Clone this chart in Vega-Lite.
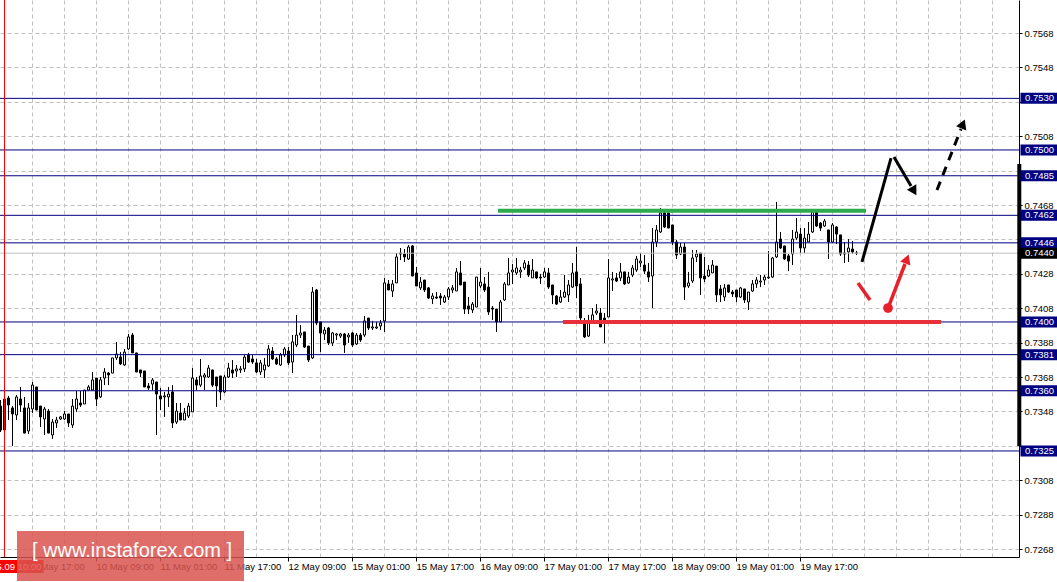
{
"$schema": "https://vega.github.io/schema/vega-lite/v6.json",
"width": 1019, "height": 557,
"autosize": "none",
"padding": {"left": 0, "top": 0, "right": 38, "bottom": 25},
"background": "white",
"config": {"view": {"stroke": null}, "font": "Liberation Sans", "axis": {"labelOverlap": false, "labelSeparation": 0}},
"resolve": {"axis": {"x": "independent", "y": "independent"}},
"datasets": {
"candles": [
{"i":0,"o":0.73511,"h":0.73546,"l":0.7336,"c":0.73372},
{"i":1,"o":0.73552,"h":0.73564,"l":0.73366,"c":0.73372},
{"i":2,"o":0.73558,"h":0.7357,"l":0.7343,"c":0.73517},
{"i":3,"o":0.735,"h":0.73511,"l":0.73279,"c":0.73465},
{"i":4,"o":0.73459,"h":0.73575,"l":0.7343,"c":0.73564},
{"i":5,"o":0.73552,"h":0.73622,"l":0.73477,"c":0.73517},
{"i":6,"o":0.735,"h":0.73564,"l":0.73354,"c":0.73354},
{"i":7,"o":0.73366,"h":0.73529,"l":0.73349,"c":0.735},
{"i":8,"o":0.73494,"h":0.73651,"l":0.73471,"c":0.73633},
{"i":9,"o":0.73622,"h":0.73622,"l":0.73488,"c":0.73488},
{"i":10,"o":0.73511,"h":0.73511,"l":0.73389,"c":0.73448},
{"i":11,"o":0.73436,"h":0.73506,"l":0.73343,"c":0.73494},
{"i":12,"o":0.73482,"h":0.73494,"l":0.73354,"c":0.73354},
{"i":13,"o":0.73343,"h":0.73436,"l":0.7332,"c":0.73418},
{"i":14,"o":0.73413,"h":0.73448,"l":0.73384,"c":0.7343},
{"i":15,"o":0.73436,"h":0.73453,"l":0.7343,"c":0.73448},
{"i":16,"o":0.73436,"h":0.73482,"l":0.7343,"c":0.73465},
{"i":17,"o":0.73465,"h":0.73465,"l":0.73389,"c":0.73413},
{"i":18,"o":0.73401,"h":0.73552,"l":0.73384,"c":0.73511},
{"i":19,"o":0.73494,"h":0.73599,"l":0.73477,"c":0.73552},
{"i":20,"o":0.73529,"h":0.73599,"l":0.73506,"c":0.73517},
{"i":21,"o":0.73523,"h":0.73604,"l":0.73523,"c":0.73604},
{"i":22,"o":0.73604,"h":0.73633,"l":0.73599,"c":0.73622},
{"i":23,"o":0.73604,"h":0.73709,"l":0.73604,"c":0.73663},
{"i":24,"o":0.73674,"h":0.73674,"l":0.73511,"c":0.73552},
{"i":25,"o":0.73564,"h":0.7368,"l":0.73558,"c":0.73663},
{"i":26,"o":0.73674,"h":0.73732,"l":0.73633,"c":0.73709},
{"i":27,"o":0.73703,"h":0.73709,"l":0.73633,"c":0.73692},
{"i":28,"o":0.73703,"h":0.73791,"l":0.73703,"c":0.73791},
{"i":29,"o":0.73791,"h":0.73884,"l":0.73779,"c":0.73814},
{"i":30,"o":0.73796,"h":0.73825,"l":0.7375,"c":0.73756},
{"i":31,"o":0.7375,"h":0.73843,"l":0.73744,"c":0.73825},
{"i":32,"o":0.73843,"h":0.7393,"l":0.73837,"c":0.73913},
{"i":33,"o":0.73924,"h":0.73936,"l":0.7382,"c":0.7382},
{"i":34,"o":0.7382,"h":0.7382,"l":0.73709,"c":0.73709},
{"i":35,"o":0.73721,"h":0.73721,"l":0.7368,"c":0.73703},
{"i":36,"o":0.73715,"h":0.73715,"l":0.73622,"c":0.73622},
{"i":37,"o":0.73628,"h":0.73645,"l":0.73604,"c":0.73616},
{"i":38,"o":0.73639,"h":0.73674,"l":0.73604,"c":0.73663},
{"i":39,"o":0.73651,"h":0.73651,"l":0.73343,"c":0.73581},
{"i":40,"o":0.7357,"h":0.73616,"l":0.73488,"c":0.73552},
{"i":41,"o":0.73564,"h":0.73593,"l":0.73448,"c":0.7357},
{"i":42,"o":0.73564,"h":0.73622,"l":0.73506,"c":0.73581},
{"i":43,"o":0.73593,"h":0.73633,"l":0.73384,"c":0.73413},
{"i":44,"o":0.73418,"h":0.73529,"l":0.73407,"c":0.73482},
{"i":45,"o":0.73471,"h":0.73529,"l":0.7343,"c":0.7343},
{"i":46,"o":0.7343,"h":0.735,"l":0.7343,"c":0.73471},
{"i":47,"o":0.73453,"h":0.73529,"l":0.73442,"c":0.73511},
{"i":48,"o":0.73477,"h":0.73732,"l":0.73477,"c":0.73674},
{"i":49,"o":0.73663,"h":0.7368,"l":0.73604,"c":0.73633},
{"i":50,"o":0.73633,"h":0.73785,"l":0.73622,"c":0.73686},
{"i":51,"o":0.7368,"h":0.73703,"l":0.73604,"c":0.73692},
{"i":52,"o":0.7368,"h":0.7375,"l":0.73674,"c":0.73732},
{"i":53,"o":0.73721,"h":0.73721,"l":0.73622,"c":0.73633},
{"i":54,"o":0.7368,"h":0.7368,"l":0.73506,"c":0.73628},
{"i":55,"o":0.73686,"h":0.73686,"l":0.73546,"c":0.73593},
{"i":56,"o":0.73593,"h":0.73692,"l":0.73587,"c":0.7368},
{"i":57,"o":0.7368,"h":0.73762,"l":0.73674,"c":0.73732},
{"i":58,"o":0.73721,"h":0.73779,"l":0.73674,"c":0.73703},
{"i":59,"o":0.73715,"h":0.7375,"l":0.7368,"c":0.73727},
{"i":60,"o":0.73721,"h":0.73744,"l":0.73703,"c":0.73727},
{"i":61,"o":0.73727,"h":0.73808,"l":0.73709,"c":0.73796},
{"i":62,"o":0.73808,"h":0.7382,"l":0.73762,"c":0.73767},
{"i":63,"o":0.73785,"h":0.73808,"l":0.73756,"c":0.73767},
{"i":64,"o":0.73762,"h":0.73785,"l":0.73703,"c":0.73709},
{"i":65,"o":0.73709,"h":0.73779,"l":0.73692,"c":0.73762},
{"i":66,"o":0.73721,"h":0.73791,"l":0.73674,"c":0.7375},
{"i":67,"o":0.73744,"h":0.73866,"l":0.73738,"c":0.73843},
{"i":68,"o":0.73831,"h":0.73854,"l":0.73779,"c":0.73785},
{"i":69,"o":0.73785,"h":0.73796,"l":0.7375,"c":0.73756},
{"i":70,"o":0.7375,"h":0.7382,"l":0.73744,"c":0.73808},
{"i":71,"o":0.73808,"h":0.73854,"l":0.73796,"c":0.73843},
{"i":72,"o":0.73831,"h":0.73854,"l":0.7375,"c":0.73762},
{"i":73,"o":0.73767,"h":0.73924,"l":0.73703,"c":0.73884},
{"i":74,"o":0.73866,"h":0.74041,"l":0.73854,"c":0.73924},
{"i":75,"o":0.73924,"h":0.73982,"l":0.73907,"c":0.73936},
{"i":76,"o":0.73942,"h":0.73942,"l":0.73849,"c":0.73854},
{"i":77,"o":0.7386,"h":0.7386,"l":0.73767,"c":0.73779},
{"i":78,"o":0.73791,"h":0.74203,"l":0.73785,"c":0.74174},
{"i":79,"o":0.74186,"h":0.74192,"l":0.73982,"c":0.73994},
{"i":80,"o":0.74,"h":0.74,"l":0.73825,"c":0.73936},
{"i":81,"o":0.7393,"h":0.73971,"l":0.73895,"c":0.73953},
{"i":82,"o":0.73965,"h":0.73971,"l":0.73866,"c":0.73878},
{"i":83,"o":0.73878,"h":0.73942,"l":0.7386,"c":0.73936},
{"i":84,"o":0.73924,"h":0.73936,"l":0.73895,"c":0.7393},
{"i":85,"o":0.73918,"h":0.73936,"l":0.73907,"c":0.7393},
{"i":86,"o":0.7393,"h":0.73936,"l":0.7382,"c":0.73866},
{"i":87,"o":0.73913,"h":0.73936,"l":0.73878,"c":0.73924},
{"i":88,"o":0.73936,"h":0.73942,"l":0.73854,"c":0.73866},
{"i":89,"o":0.73872,"h":0.73936,"l":0.73866,"c":0.73924},
{"i":90,"o":0.73924,"h":0.73936,"l":0.73884,"c":0.73895},
{"i":91,"o":0.73924,"h":0.74035,"l":0.73913,"c":0.74006},
{"i":92,"o":0.74023,"h":0.74023,"l":0.73953,"c":0.73965},
{"i":93,"o":0.73965,"h":0.74006,"l":0.73953,"c":0.73971},
{"i":94,"o":0.73965,"h":0.74,"l":0.73959,"c":0.73971},
{"i":95,"o":0.73977,"h":0.74011,"l":0.73953,"c":0.73994},
{"i":96,"o":0.74006,"h":0.74256,"l":0.73942,"c":0.74227},
{"i":97,"o":0.74221,"h":0.74244,"l":0.74186,"c":0.74186},
{"i":98,"o":0.7418,"h":0.74244,"l":0.74145,"c":0.74221},
{"i":99,"o":0.74227,"h":0.74401,"l":0.74227,"c":0.74378},
{"i":100,"o":0.74401,"h":0.7443,"l":0.7436,"c":0.74395},
{"i":101,"o":0.74395,"h":0.74424,"l":0.74349,"c":0.74378},
{"i":102,"o":0.74366,"h":0.74447,"l":0.7436,"c":0.74436},
{"i":103,"o":0.74442,"h":0.74447,"l":0.74267,"c":0.74267},
{"i":104,"o":0.74285,"h":0.7432,"l":0.74209,"c":0.74209},
{"i":105,"o":0.74198,"h":0.74261,"l":0.74186,"c":0.74232},
{"i":106,"o":0.74244,"h":0.74244,"l":0.74174,"c":0.74186},
{"i":107,"o":0.74198,"h":0.74203,"l":0.74134,"c":0.74139},
{"i":108,"o":0.74134,"h":0.74168,"l":0.74104,"c":0.74151},
{"i":109,"o":0.74145,"h":0.74174,"l":0.74134,"c":0.74139},
{"i":110,"o":0.74151,"h":0.74168,"l":0.74099,"c":0.74139},
{"i":111,"o":0.74116,"h":0.74157,"l":0.7411,"c":0.74145},
{"i":112,"o":0.74145,"h":0.74203,"l":0.74128,"c":0.74192},
{"i":113,"o":0.74186,"h":0.74215,"l":0.74168,"c":0.74198},
{"i":114,"o":0.7418,"h":0.74314,"l":0.7418,"c":0.74291},
{"i":115,"o":0.74285,"h":0.74354,"l":0.74215,"c":0.74215},
{"i":116,"o":0.74232,"h":0.74232,"l":0.74046,"c":0.74075},
{"i":117,"o":0.74093,"h":0.74145,"l":0.74046,"c":0.74075},
{"i":118,"o":0.7407,"h":0.74116,"l":0.74052,"c":0.74104},
{"i":119,"o":0.74087,"h":0.74261,"l":0.74087,"c":0.74261},
{"i":120,"o":0.74209,"h":0.74314,"l":0.74198,"c":0.74232},
{"i":121,"o":0.74221,"h":0.74261,"l":0.74174,"c":0.74186},
{"i":122,"o":0.74203,"h":0.74291,"l":0.74041,"c":0.74058},
{"i":123,"o":0.74081,"h":0.74093,"l":0.74011,"c":0.74075},
{"i":124,"o":0.74075,"h":0.74075,"l":0.73942,"c":0.74},
{"i":125,"o":0.74,"h":0.74128,"l":0.74,"c":0.74116},
{"i":126,"o":0.74128,"h":0.74232,"l":0.74122,"c":0.74221},
{"i":127,"o":0.74215,"h":0.74372,"l":0.74215,"c":0.74285},
{"i":128,"o":0.74291,"h":0.74337,"l":0.74221,"c":0.74302},
{"i":129,"o":0.74285,"h":0.74372,"l":0.74273,"c":0.74314},
{"i":130,"o":0.74291,"h":0.7432,"l":0.74256,"c":0.74302},
{"i":131,"o":0.74314,"h":0.7436,"l":0.74302,"c":0.74343},
{"i":132,"o":0.74331,"h":0.74354,"l":0.74261,"c":0.74273},
{"i":133,"o":0.74256,"h":0.74366,"l":0.74256,"c":0.74302},
{"i":134,"o":0.74291,"h":0.74291,"l":0.7425,"c":0.74256},
{"i":135,"o":0.74261,"h":0.74279,"l":0.74221,"c":0.74256},
{"i":136,"o":0.74261,"h":0.74314,"l":0.74256,"c":0.74291},
{"i":137,"o":0.74285,"h":0.74314,"l":0.74192,"c":0.74203},
{"i":138,"o":0.74215,"h":0.74215,"l":0.74104,"c":0.74157},
{"i":139,"o":0.74151,"h":0.74157,"l":0.74099,"c":0.74104},
{"i":140,"o":0.74116,"h":0.74186,"l":0.7411,"c":0.74145},
{"i":141,"o":0.74145,"h":0.74273,"l":0.74139,"c":0.74174},
{"i":142,"o":0.74157,"h":0.74244,"l":0.74116,"c":0.74215},
{"i":143,"o":0.74203,"h":0.74343,"l":0.74198,"c":0.74285},
{"i":144,"o":0.74291,"h":0.74436,"l":0.74139,"c":0.74209},
{"i":145,"o":0.74221,"h":0.74256,"l":0.74011,"c":0.74023},
{"i":146,"o":0.73994,"h":0.74023,"l":0.73907,"c":0.73913},
{"i":147,"o":0.73918,"h":0.74041,"l":0.73913,"c":0.73994},
{"i":148,"o":0.73994,"h":0.74081,"l":0.73994,"c":0.74041},
{"i":149,"o":0.74052,"h":0.74104,"l":0.74041,"c":0.74064},
{"i":150,"o":0.74052,"h":0.74081,"l":0.73971,"c":0.73971},
{"i":151,"o":0.74023,"h":0.74052,"l":0.73878,"c":0.73994},
{"i":152,"o":0.74029,"h":0.74366,"l":0.74029,"c":0.74256},
{"i":153,"o":0.74244,"h":0.74291,"l":0.7418,"c":0.7425},
{"i":154,"o":0.74256,"h":0.74285,"l":0.74232,"c":0.74238},
{"i":155,"o":0.74256,"h":0.74343,"l":0.74238,"c":0.74291},
{"i":156,"o":0.74291,"h":0.74291,"l":0.74215,"c":0.74221},
{"i":157,"o":0.74227,"h":0.74291,"l":0.74221,"c":0.74261},
{"i":158,"o":0.74273,"h":0.74331,"l":0.74261,"c":0.74314},
{"i":159,"o":0.74302,"h":0.74384,"l":0.74291,"c":0.74366},
{"i":160,"o":0.74343,"h":0.74401,"l":0.7432,"c":0.74354},
{"i":161,"o":0.74331,"h":0.74389,"l":0.74279,"c":0.74296},
{"i":162,"o":0.74291,"h":0.74343,"l":0.74232,"c":0.74261},
{"i":163,"o":0.74267,"h":0.74546,"l":0.74081,"c":0.74465},
{"i":164,"o":0.74465,"h":0.74564,"l":0.74436,"c":0.74535},
{"i":165,"o":0.74523,"h":0.74663,"l":0.74517,"c":0.74634},
{"i":166,"o":0.74634,"h":0.74657,"l":0.74546,"c":0.74552},
{"i":167,"o":0.74634,"h":0.74634,"l":0.74546,"c":0.74546},
{"i":168,"o":0.74564,"h":0.74564,"l":0.74447,"c":0.74465},
{"i":169,"o":0.74465,"h":0.74477,"l":0.74366,"c":0.74389},
{"i":170,"o":0.74395,"h":0.74459,"l":0.74389,"c":0.74436},
{"i":171,"o":0.74436,"h":0.74459,"l":0.74128,"c":0.74203},
{"i":172,"o":0.74209,"h":0.74291,"l":0.74198,"c":0.74227},
{"i":173,"o":0.74238,"h":0.74418,"l":0.74227,"c":0.74372},
{"i":174,"o":0.74378,"h":0.74418,"l":0.74349,"c":0.74395},
{"i":175,"o":0.74401,"h":0.74401,"l":0.74157,"c":0.74256},
{"i":176,"o":0.74267,"h":0.74378,"l":0.74232,"c":0.7425},
{"i":177,"o":0.74267,"h":0.74331,"l":0.74261,"c":0.74302},
{"i":178,"o":0.74285,"h":0.7436,"l":0.74285,"c":0.74331},
{"i":179,"o":0.74325,"h":0.74325,"l":0.74116,"c":0.74157},
{"i":180,"o":0.74192,"h":0.74215,"l":0.74116,"c":0.74157},
{"i":181,"o":0.74145,"h":0.74221,"l":0.74122,"c":0.74198},
{"i":182,"o":0.74215,"h":0.74215,"l":0.74168,"c":0.74174},
{"i":183,"o":0.74174,"h":0.74186,"l":0.74145,"c":0.74163},
{"i":184,"o":0.74186,"h":0.74186,"l":0.74116,"c":0.74145},
{"i":185,"o":0.74145,"h":0.74203,"l":0.74139,"c":0.74198},
{"i":186,"o":0.74192,"h":0.74192,"l":0.7411,"c":0.74128},
{"i":187,"o":0.74116,"h":0.74174,"l":0.7407,"c":0.74174},
{"i":188,"o":0.7418,"h":0.74244,"l":0.74174,"c":0.74221},
{"i":189,"o":0.74221,"h":0.74261,"l":0.74198,"c":0.74244},
{"i":190,"o":0.74232,"h":0.74273,"l":0.74203,"c":0.74238},
{"i":191,"o":0.74244,"h":0.74273,"l":0.74215,"c":0.74261},
{"i":192,"o":0.74256,"h":0.74413,"l":0.7425,"c":0.74261},
{"i":193,"o":0.74261,"h":0.74378,"l":0.74256,"c":0.74372},
{"i":194,"o":0.74378,"h":0.74698,"l":0.74372,"c":0.74465},
{"i":195,"o":0.74482,"h":0.74523,"l":0.74424,"c":0.7443},
{"i":196,"o":0.74442,"h":0.74442,"l":0.7436,"c":0.74366},
{"i":197,"o":0.74384,"h":0.74395,"l":0.74296,"c":0.74354},
{"i":198,"o":0.74395,"h":0.74535,"l":0.74331,"c":0.74482},
{"i":199,"o":0.74488,"h":0.74604,"l":0.74477,"c":0.74523},
{"i":200,"o":0.74511,"h":0.74546,"l":0.74401,"c":0.7443},
{"i":201,"o":0.7443,"h":0.74546,"l":0.74401,"c":0.74488},
{"i":202,"o":0.74465,"h":0.74581,"l":0.74465,"c":0.74511},
{"i":203,"o":0.74523,"h":0.74651,"l":0.74517,"c":0.74639},
{"i":204,"o":0.74639,"h":0.74651,"l":0.74552,"c":0.74558},
{"i":205,"o":0.74575,"h":0.74581,"l":0.74529,"c":0.74546},
{"i":206,"o":0.74558,"h":0.74599,"l":0.74552,"c":0.74587},
{"i":207,"o":0.74535,"h":0.74535,"l":0.74366,"c":0.74465},
{"i":208,"o":0.74465,"h":0.74575,"l":0.74459,"c":0.74564},
{"i":209,"o":0.74552,"h":0.74558,"l":0.74453,"c":0.74511},
{"i":210,"o":0.74506,"h":0.74506,"l":0.74384,"c":0.74395},
{"i":211,"o":0.74401,"h":0.74465,"l":0.74343,"c":0.74395},
{"i":212,"o":0.74407,"h":0.74482,"l":0.74349,"c":0.7443},
{"i":213,"o":0.74424,"h":0.74471,"l":0.74395,"c":0.74407},
{"i":214,"o":0.74401,"h":0.74413,"l":0.74389,"c":0.74401}
],
"levels": [{"lvl":0.753},{"lvl":0.75},{"lvl":0.7485},{"lvl":0.7462},{"lvl":0.7446},{"lvl":0.74},{"lvl":0.7381},{"lvl":0.736},{"lvl":0.7325}]
},
"layer": [
{"data": {"name": "candles"},
 "mark": {"type": "rule", "color": "black", "strokeWidth": 1},
 "encoding": {
  "x": {"field": "i", "type": "quantitative",
   "scale": {"domain": [-0.125, 254.625], "nice": false, "zero": false, "padding": 0},
   "axis": {"title": null,
    "values": [7.875,15.875,23.875,31.875,39.875,47.875,55.875,63.875,71.875,79.875,87.875,95.875,103.875,111.875,119.875,127.875,135.875,143.875,151.875,159.875,167.875,175.875,183.875,191.875,199.875,207.875,215.875,223.875,231.875,239.875,247.875],
    "labelExpr": "(round((datum.value-7.875)/8)%2==0 && datum.value<210) ? ['9 May 17:00','10 May 09:00','11 May 01:00','11 May 17:00','12 May 09:00','15 May 01:00','15 May 17:00','16 May 09:00','17 May 01:00','17 May 17:00','18 May 09:00','19 May 01:00','19 May 17:00'][round((datum.value-7.875)/16)] : ''",
    "grid": true, "gridColor": "#c0c0c0", "gridDash": [4, 3], "gridWidth": 1,
    "domain": true, "domainColor": "black", "domainWidth": 1,
    "ticks": true, "tickColor": "black", "tickSize": 4,
    "tickOpacity": {"condition": {"test": "round((datum.value-7.875)/8)%2==1 || datum.value>210", "value": 0}, "value": 1},
    "labelAlign": "left", "labelBaseline": "middle", "labelPadding": 5,
    "labelFont": "Liberation Sans", "labelFontSize": 9.5, "labelColor": "black",
    "labelOverlap": false, "labelFlush": false, "labelBound": false}},
  "y": {"field": "l", "type": "quantitative",
   "scale": {"domain": [0.726335, 0.758719], "nice": false, "zero": false, "padding": 0},
   "axis": {"title": null, "orient": "right",
    "values": [0.7268,0.7288,0.7308,0.7328,0.7348,0.7368,0.7388,0.7408,0.7428,0.7448,0.7468,0.7488,0.7508,0.7528,0.7548,0.7568],
    "format": ".4f",
    "labelExpr": "indexof(['0.7528','0.7488','0.7448','0.7328'], datum.label) >= 0 ? '' : datum.label",
    "grid": true, "gridColor": "#c0c0c0", "gridDash": [4, 3], "gridWidth": 1,
    "domain": true, "domainColor": "black", "domainWidth": 1,
    "ticks": true, "tickColor": "black", "tickSize": 3,
    "labelPadding": 2, "labelAlign": "left", "labelBaseline": "middle",
    "labelFont": "Liberation Sans", "labelFontSize": 9.5, "labelColor": "black",
    "labelOverlap": false, "labelFlush": false, "labelBound": false}},
  "y2": {"field": "h"}}},
{"data": {"name": "candles"},
 "mark": {"type": "bar", "size": 2, "stroke": "black", "strokeWidth": 1},
 "encoding": {
  "x": {"field": "i", "type": "quantitative", "axis": null},
  "y": {"field": "o", "type": "quantitative", "axis": null},
  "y2": {"field": "c"},
  "fill": {"condition": {"test": "datum.c < datum.o", "value": "black"}, "value": "white"}}},
{"data": {"name": "levels"},
 "mark": {"type": "rule", "color": "#000080", "strokeWidth": 1},
 "encoding": {"y": {"field": "lvl", "type": "quantitative", "axis": null}}},
{"data": {"values": [{"p": 0.744}]},
 "mark": {"type": "rule", "color": "#c0c0c0", "strokeWidth": 1},
 "encoding": {"y": {"field": "p", "type": "quantitative", "axis": null}}},
{"data": {"values": [{"a": 124.375, "b": 216.375, "p": 0.74647}]},
 "mark": {"type": "rule", "color": "#2eaa4e", "strokeWidth": 4},
 "encoding": {"x": {"field": "a", "type": "quantitative", "axis": null}, "x2": {"field": "b"}, "y": {"field": "p", "type": "quantitative", "axis": null}}},
{"data": {"values": [{"a": 140.625, "b": 235.125, "p": 0.74}]},
 "mark": {"type": "rule", "color": "#e8303a", "strokeWidth": 4},
 "encoding": {"x": {"field": "a", "type": "quantitative", "axis": null}, "x2": {"field": "b"}, "y": {"field": "p", "type": "quantitative", "axis": null}}},
{"data": {"values": [{"a": 215.375, "b": 0.74349, "a2": 222.625, "b2": 0.74953}, {"a": 223.375, "b": 0.74959, "a2": 227.625, "b2": 0.74791}]},
 "mark": {"type": "rule", "color": "black", "strokeWidth": 3},
 "encoding": {"x": {"field": "a", "type": "quantitative", "axis": null}, "x2": {"field": "a2"}, "y": {"field": "b", "type": "quantitative", "axis": null}, "y2": {"field": "b2"}}},
{"data": {"values": [{"a": 234.125, "b": 0.74767, "a2": 240.125, "b2": 0.75122}]},
 "mark": {"type": "rule", "color": "black", "strokeWidth": 3, "strokeDash": [9, 7]},
 "encoding": {"x": {"field": "a", "type": "quantitative", "axis": null}, "x2": {"field": "a2"}, "y": {"field": "b", "type": "quantitative", "axis": null}, "y2": {"field": "b2"}}},
{"data": {"values": [{"a": 214.375, "b": 0.74227, "a2": 217.375, "b2": 0.74128}, {"a": 221.875, "b": 0.74081, "a2": 226.125, "b2": 0.74337}]},
 "mark": {"type": "rule", "color": "#e8202a", "strokeWidth": 3.5},
 "encoding": {"x": {"field": "a", "type": "quantitative", "axis": null}, "x2": {"field": "a2"}, "y": {"field": "b", "type": "quantitative", "axis": null}, "y2": {"field": "b2"}}},
{"data": {"values": [{"a": 228.375, "b": 0.74761}]},
 "mark": {"type": "point", "shape": "triangle-up", "filled": true, "color": "black", "size": 120, "angle": 149.5, "opacity": 1},
 "encoding": {"x": {"field": "a", "type": "quantitative", "axis": null}, "y": {"field": "b", "type": "quantitative", "axis": null}}},
{"data": {"values": [{"a": 240.625, "b": 0.75151}]},
 "mark": {"type": "point", "shape": "triangle-up", "filled": true, "color": "black", "size": 120, "angle": 22, "opacity": 1},
 "encoding": {"x": {"field": "a", "type": "quantitative", "axis": null}, "y": {"field": "b", "type": "quantitative", "axis": null}}},
{"data": {"values": [{"a": 226.625, "b": 0.74366}]},
 "mark": {"type": "point", "shape": "triangle-up", "filled": true, "color": "#e8202a", "size": 120, "angle": 21, "opacity": 1},
 "encoding": {"x": {"field": "a", "type": "quantitative", "axis": null}, "y": {"field": "b", "type": "quantitative", "axis": null}}},
{"data": {"values": [{"a": 221.875, "b": 0.74081}]},
 "mark": {"type": "point", "shape": "circle", "filled": true, "color": "#e8202a", "size": 95, "opacity": 1},
 "encoding": {"x": {"field": "a", "type": "quantitative", "axis": null}, "y": {"field": "b", "type": "quantitative", "axis": null}}},
{"data": {"values": [{}]},
 "mark": {"type": "rule", "color": "black", "strokeWidth": 4},
 "encoding": {"x": {"datum": 254.7, "type": "quantitative", "axis": null}, "y": {"datum": 0.74918, "type": "quantitative", "axis": null}, "y2": {"datum": 0.73279}}},
{"data": {"values": [{}]},
 "mark": {"type": "rule", "color": "#ff0000", "strokeWidth": 1},
 "encoding": {"x": {"datum": 1, "type": "quantitative", "axis": null}}},
{"data": {"name": "levels"},
 "mark": {"type": "tick", "orient": "horizontal", "size": 37, "thickness": 11, "color": "#000080", "opacity": 1},
 "encoding": {"x": {"datum": 259.625, "type": "quantitative", "axis": null}, "y": {"field": "lvl", "type": "quantitative", "axis": null}}},
{"data": {"name": "levels"},
 "mark": {"type": "text", "color": "white", "font": "Liberation Sans", "fontSize": 9.5, "align": "left", "baseline": "middle"},
 "encoding": {"x": {"datum": 256.125, "type": "quantitative", "axis": null}, "y": {"field": "lvl", "type": "quantitative", "axis": null}, "text": {"field": "lvl", "format": ".4f"}}},
{"data": {"values": [{"p": 0.744}]},
 "mark": {"type": "tick", "orient": "horizontal", "size": 37, "thickness": 11, "color": "black", "opacity": 1},
 "encoding": {"x": {"datum": 259.625, "type": "quantitative", "axis": null}, "y": {"field": "p", "type": "quantitative", "axis": null}}},
{"data": {"values": [{"p": 0.744}]},
 "mark": {"type": "text", "color": "white", "font": "Liberation Sans", "fontSize": 9.5, "align": "left", "baseline": "middle"},
 "encoding": {"x": {"datum": 256.125, "type": "quantitative", "axis": null}, "y": {"field": "p", "type": "quantitative", "axis": null}, "text": {"field": "p", "format": ".4f"}}},
{"data": {"values": [{"t": "2017.05.09 10:00"}]},
 "mark": {"type": "tick", "orient": "horizontal", "size": 78, "thickness": 13, "color": "#ff0000", "opacity": 1},
 "encoding": {"x": {"datum": 1, "type": "quantitative", "axis": null}, "y": {"datum": 0.72578, "type": "quantitative", "axis": null}}},
{"data": {"values": [{"t": "2017.05.09 10:00"}]},
 "mark": {"type": "text", "color": "white", "font": "Liberation Sans", "fontSize": 9.5, "align": "center", "baseline": "middle"},
 "encoding": {"x": {"datum": 1, "type": "quantitative", "axis": null}, "y": {"datum": 0.72578, "type": "quantitative", "axis": null}, "text": {"field": "t"}}},
{"data": {"values": [{"t": "[ www.instaforex.com ]"}]},
 "mark": {"type": "rect", "color": "#d9534f", "opacity": 0.85},
 "encoding": {"x": {"datum": 4.125, "type": "quantitative", "axis": null}, "x2": {"datum": 60.875}, "y": {"datum": 0.72785, "type": "quantitative", "axis": null}, "y2": {"datum": 0.72494}}},
{"data": {"values": [{"t": "[ www.instaforex.com ]"}]},
 "mark": {"type": "text", "color": "white", "font": "Liberation Sans", "fontSize": 20, "align": "center", "baseline": "middle"},
 "encoding": {"x": {"datum": 32.875, "type": "quantitative", "axis": null}, "y": {"datum": 0.72668, "type": "quantitative", "axis": null}, "text": {"field": "t"}}}
]
}
